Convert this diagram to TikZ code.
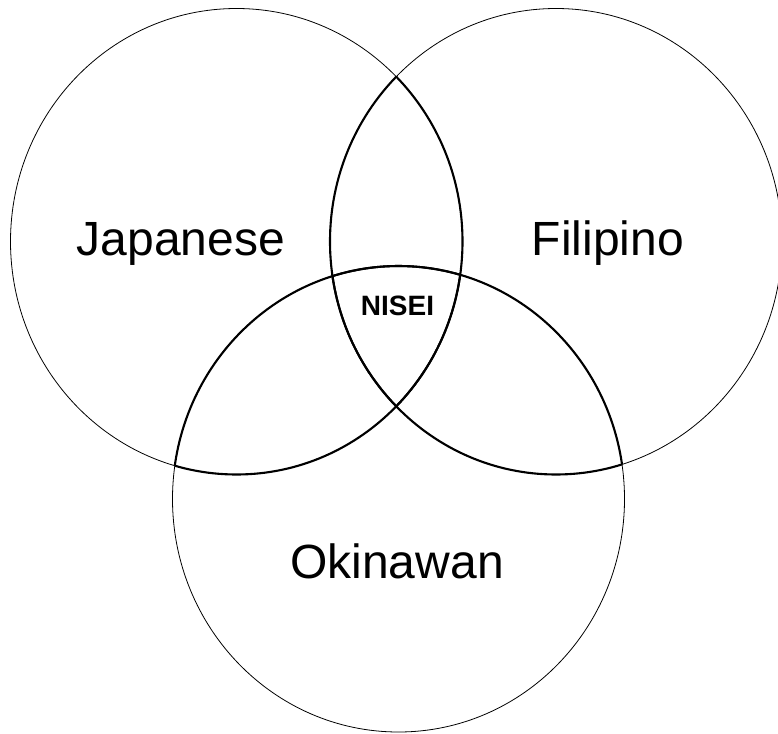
\documentclass[tikz,border=0pt]{standalone}
\usepackage{fontspec}
\setmainfont{Liberation Sans}
\begin{document}
\begin{tikzpicture}[x=1pt,y=-1pt,
  thinline/.style={line width=0.8pt},
  thickline/.style={line width=2.1pt},
  lbl/.style={font=\fontsize{48}{48}\selectfont, anchor=base, inner sep=0pt},
  core/.style={font=\fontsize{28}{28}\selectfont\bfseries, anchor=base, inner sep=0pt}]
\useasboundingbox (0,0) rectangle (778,733);
\coordinate (cL) at (236.5,241.5);
\coordinate (cR) at (556,241.5);
\coordinate (cB) at (398.5,499);
\def\rx{226}\def\ry{233}
% thin full outlines
\draw[thinline] (cL) ellipse [x radius=\rx, y radius=\ry];
\draw[thinline] (cR) ellipse [x radius=\rx, y radius=\ry];
\draw[thinline] (cB) ellipse [x radius=\rx, y radius=\ry];
% thick inner portions
\begin{scope}
  \clip (cR) ellipse [x radius=\rx, y radius=\ry];
  \draw[thickline] (cL) ellipse [x radius=\rx, y radius=\ry];
  \draw[thickline] (cB) ellipse [x radius=\rx, y radius=\ry];
\end{scope}
\begin{scope}
  \clip (cL) ellipse [x radius=\rx, y radius=\ry];
  \draw[thickline] (cR) ellipse [x radius=\rx, y radius=\ry];
  \draw[thickline] (cB) ellipse [x radius=\rx, y radius=\ry];
\end{scope}
\begin{scope}
  \clip (cB) ellipse [x radius=\rx, y radius=\ry];
  \draw[thickline] (cL) ellipse [x radius=\rx, y radius=\ry];
  \draw[thickline] (cR) ellipse [x radius=\rx, y radius=\ry];
\end{scope}
% labels
\node[lbl] (jp) at (181,255) {Japanese};
\node[lbl] (fil) at (608,255) {Filipino};
\node[lbl] (oki) at (397,578) {Okinawan};
\node[core] (nisei) at (397.5,315.5) {NISEI};
\end{tikzpicture}
\end{document}
